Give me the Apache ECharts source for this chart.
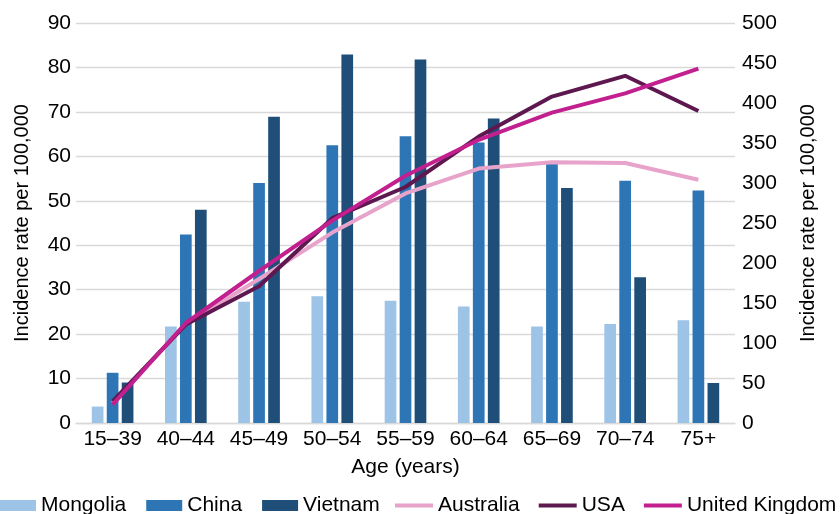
<!DOCTYPE html>
<html>
<head>
<meta charset="utf-8">
<script src="https://cdn.jsdelivr.net/npm/echarts@6/dist/echarts.min.js"></script>
<style>
html,body{margin:0;padding:0;background:#fff;}
#chart{width:840px;height:514px;}
</style>
</head>
<body>
<div id="chart"></div>
<script>
var categories = ['15–39','40–44','45–49','50–54','55–59','60–64','65–69','70–74','75+'];
var mongolia = [3.7, 21.7, 27.3, 28.5, 27.5, 26.2, 21.7, 22.3, 23.1];
var china    = [11.3, 42.4, 54.0, 62.5, 64.5, 63.1, 58.5, 54.5, 52.3];
var vietnam  = [9.1, 48.0, 68.9, 82.9, 81.8, 68.5, 52.9, 32.8, 9.0];
var australia = [25, 124, 180, 238, 287, 318, 326, 325, 304];
var usa       = [27, 123, 171, 256, 295, 358, 408, 434, 390];
var uk        = [23, 125, 190, 253, 309, 354, 388, 412, 443];

var FONT = '"Liberation Sans", Arial, Helvetica, sans-serif';
var chart = echarts.init(document.getElementById('chart'), null, {renderer:'canvas'});
var barCommon = { type:'bar', yAxisIndex:0, barWidth:11.7, barGap:'28%' };
var lineCommon = { type:'line', yAxisIndex:1, symbol:'none', showSymbol:false, smooth:false, z:5 };
var legendText = {fontSize:21, color:'#000', fontFamily:FONT};
chart.setOption({
  animation:false,
  backgroundColor:'#ffffff',
  textStyle:{fontFamily:FONT, color:'#000'},
  grid:{left:76, right:105, top:23, bottom:91, containLabel:false},
  legend:[
    {
      left:0, top:495, padding:0, itemWidth:36, itemHeight:11, itemGap:20,
      icon:'rect', textStyle:legendText,
      data:['Mongolia','China','Vietnam']
    },
    {
      left:395, top:495, padding:0, itemWidth:38, itemHeight:4, itemGap:19,
      icon:'rect', textStyle:legendText,
      data:['Australia','USA','United Kingdom']
    }
  ],
  xAxis:{
    type:'category', data:categories, boundaryGap:true,
    name:'Age (years)', nameLocation:'middle', nameGap:34,
    nameTextStyle:{fontSize:21, color:'#000', fontFamily:FONT},
    axisLine:{lineStyle:{color:'#d9d9d9', width:1.3}},
    axisTick:{show:false},
    axisLabel:{fontSize:21, color:'#000', margin:6, fontFamily:FONT, interval:0}
  },
  yAxis:[
    {
      type:'value', min:0, max:90, interval:10, position:'left',
      name:'Incidence rate per 100,000', nameLocation:'middle', nameGap:44, nameRotate:90,
      nameTextStyle:{fontSize:20, color:'#000', fontFamily:FONT},
      axisLine:{show:false}, axisTick:{show:false},
      axisLabel:{fontSize:21, color:'#000', margin:5, fontFamily:FONT},
      splitLine:{lineStyle:{color:'#d9d9d9', width:1.3}}
    },
    {
      type:'value', min:0, max:500, interval:50, position:'right',
      name:'Incidence rate per 100,000', nameLocation:'middle', nameGap:63, nameRotate:90,
      nameTextStyle:{fontSize:20, color:'#000', fontFamily:FONT},
      axisLine:{show:false}, axisTick:{show:false},
      axisLabel:{fontSize:21, color:'#000', margin:7, fontFamily:FONT},
      splitLine:{show:false}
    }
  ],
  series:[
    Object.assign({name:'Mongolia', data:mongolia, itemStyle:{color:'#9DC3E6'}}, barCommon),
    Object.assign({name:'China', data:china, itemStyle:{color:'#2E75B6'}}, barCommon),
    Object.assign({name:'Vietnam', data:vietnam, itemStyle:{color:'#1F4E79'}}, barCommon),
    Object.assign({name:'Australia', data:australia, itemStyle:{color:'#E8A3CB'}, lineStyle:{color:'#E8A3CB', width:4}}, lineCommon),
    Object.assign({name:'USA', data:usa, itemStyle:{color:'#5E1850'}, lineStyle:{color:'#5E1850', width:4}}, lineCommon),
    Object.assign({name:'United Kingdom', data:uk, itemStyle:{color:'#C21F8F'}, lineStyle:{color:'#C21F8F', width:4}}, lineCommon)
  ]
});
</script>
</body>
</html>
